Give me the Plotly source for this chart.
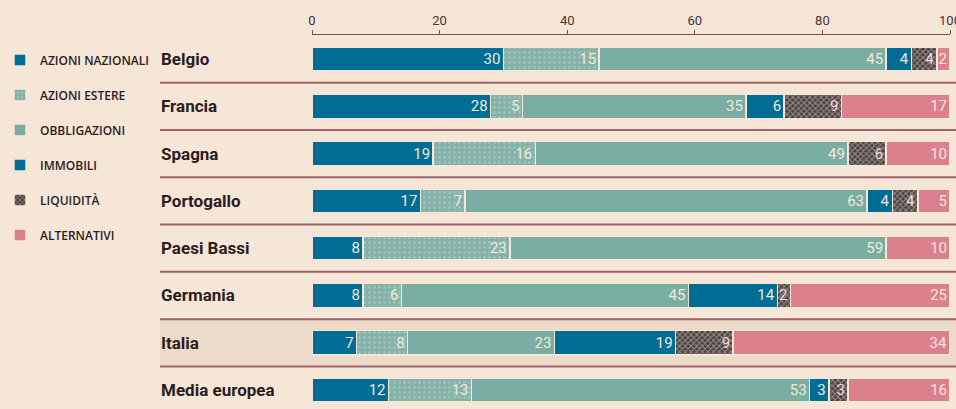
import plotly.graph_objects as go

# Composizione dei portafogli (%), per paese
paesi = ["Belgio", "Francia", "Spagna", "Portogallo", "Paesi Bassi",
         "Germania", "Italia", "Media europea"]

azioni_nazionali = [30, 28, 19, 17, 8, 8, 7, 12]
azioni_estere = [15, 5, 16, 7, 23, 6, 8, 13]
obbligazioni = [45, 35, 49, 63, 59, 45, 23, 53]
immobili = [4, 6, 0, 4, 0, 14, 19, 3]
liquidita = [4, 9, 6, 4, 0, 2, 9, 3]
alternativi = [2, 17, 10, 5, 10, 25, 34, 16]

tick_valori = [0, 20, 40, 60, 80, 100]

BG = "#f6e6d7"
TEXT = "#2b1d1d"
LINE = "#9e6468"
LABEL = "#f4e8da"

serie = [
    ("AZIONI NAZIONALI", azioni_nazionali, dict(color="#006d94")),
    ("AZIONI ESTERE", azioni_estere, dict(color="#85b2a8", pattern=dict(
        shape=".", bgcolor="#85b2a8", fgcolor="#b8d2ca", size=5, solidity=0.25))),
    ("OBBLIGAZIONI", obbligazioni, dict(color="#7aaea3")),
    ("IMMOBILI", immobili, dict(color="#006d94")),
    ("LIQUIDITÀ", liquidita, dict(color="#5b5152", pattern=dict(
        shape="x", bgcolor="#4a4040", fgcolor="#e6dcd2", size=4, solidity=0.45))),
    ("ALTERNATIVI", alternativi, dict(color="#db808d")),
]

fig = go.Figure()

for nome, valori, marker in serie:
    testo = [str(v) if v else "" for v in valori]
    fig.add_trace(go.Bar(
        y=paesi,
        x=valori,
        orientation="h",
        name=nome,
        legendgroup=nome,
        text=testo,
        textposition="inside",
        insidetextanchor="end",
        textfont=dict(family="Roboto", size=15,
                      color="#f6d9dc" if nome == "LIQUIDITÀ" else LABEL),
        marker=dict(line=dict(color=BG, width=1.5), **marker),
        hovertemplate="%{y}: %{x}%<extra>" + nome + "</extra>",
    ))

# Fascia evidenziata per l'Italia
fig.add_shape(type="rect", xref="paper", yref="y",
              x0=160 / 956, x1=1, y0=5.5, y1=6.5,
              fillcolor="#ecdbc9", line_width=0, layer="below")

# Linee di separazione tra le righe
for k in range(len(paesi) - 1):
    fig.add_shape(type="line", xref="paper", yref="y",
                  x0=160 / 956, x1=1, y0=k + 0.5, y1=k + 0.5,
                  line=dict(color=LINE, width=2), layer="below")

# Nomi dei paesi allineati a sinistra
for p in paesi:
    fig.add_annotation(x=159 / 956, xref="paper", y=p, yref="y",
                       text=f"<b>{p}</b>", showarrow=False, xanchor="left",
                       font=dict(family="Roboto", size=17, color=TEXT))

fig.update_layout(
    width=956, height=409,
    barmode="stack",
    bargap=0.49,
    paper_bgcolor=BG,
    plot_bgcolor="rgba(0,0,0,0)",
    margin=dict(l=0, r=0, t=35, b=0, autoexpand=False),
    uniformtext=dict(minsize=15, mode="show"),
    font=dict(family="Roboto", color=TEXT),
    legend=dict(
        x=0, y=0.972, xanchor="left", yanchor="top",
        font=dict(family="Open Sans", size=12, weight=600, color=TEXT),
        tracegroupgap=16, itemwidth=30, bgcolor="rgba(0,0,0,0)",
    ),
    xaxis=dict(
        domain=[312 / 956, 950 / 956],
        range=[0, 100],
        side="top",
        automargin=False,
        tickvals=tick_valori,
        ticks="outside", ticklen=4, tickcolor="#7a4c4e",
        ticklabeloverflow="allow",
        showline=True, linecolor="#7a4c4e", linewidth=1,
        showgrid=False, zeroline=False,
        tickfont=dict(family="Roboto", size=13, color="#4a3032"),
    ),
    yaxis=dict(
        range=[7.4, -0.507],
        showticklabels=False, showgrid=False, zeroline=False,
    ),
)

# niente margine di pagina: la figura occupa esattamente la finestra
fig.write_html("out.html", config={"displayModeBar": False},
               post_script="document.body.style.margin='0';")
